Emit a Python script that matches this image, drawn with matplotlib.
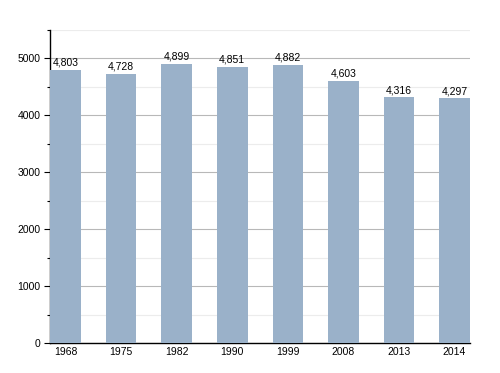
import matplotlib.pyplot as plt
from matplotlib.ticker import MultipleLocator

years = ["1968", "1975", "1982", "1990", "1999", "2008", "2013", "2014"]
population = [4803, 4728, 4899, 4851, 4882, 4603, 4316, 4297]

fig = plt.figure(figsize=(5, 3.73), dpi=100)
ax = fig.add_axes([0.1, 0.0804, 0.84, 0.8392])

x = list(range(len(years)))
ax.bar(x, population, width=0.55, color="#9ab1c9", zorder=3)

for xi, v in zip(x, population):
    ax.text(xi, v + 40, f"{v:,}", ha="center", va="bottom", fontsize=7.5, family="Liberation Sans", zorder=4)

ax.set_xlim(-0.28, 7.28)
ax.set_ylim(0, 5500)
ax.set_xticks(x)
ax.set_xticklabels(years, family="Liberation Sans", fontsize=7.5)
ax.yaxis.set_major_locator(MultipleLocator(1000))
ax.yaxis.set_minor_locator(MultipleLocator(500))
for lbl in ax.get_yticklabels():
    lbl.set_family("Liberation Sans")
ax.tick_params(axis="y", which="major", labelsize=7.5, length=4, width=0.8, pad=3)
ax.tick_params(axis="y", which="minor", length=2, width=0.8)
ax.tick_params(axis="x", length=0, pad=3)

ax.grid(axis="y", which="major", color="#b8b8b8", linewidth=0.8, zorder=0)
ax.grid(axis="y", which="minor", color="#ececec", linewidth=0.8, zorder=0)

for s in ["top", "right"]:
    ax.spines[s].set_visible(False)
ax.spines["left"].set_linewidth(1.0)
ax.spines["bottom"].set_linewidth(1.0)

fig.savefig("out.png", dpi=100)
